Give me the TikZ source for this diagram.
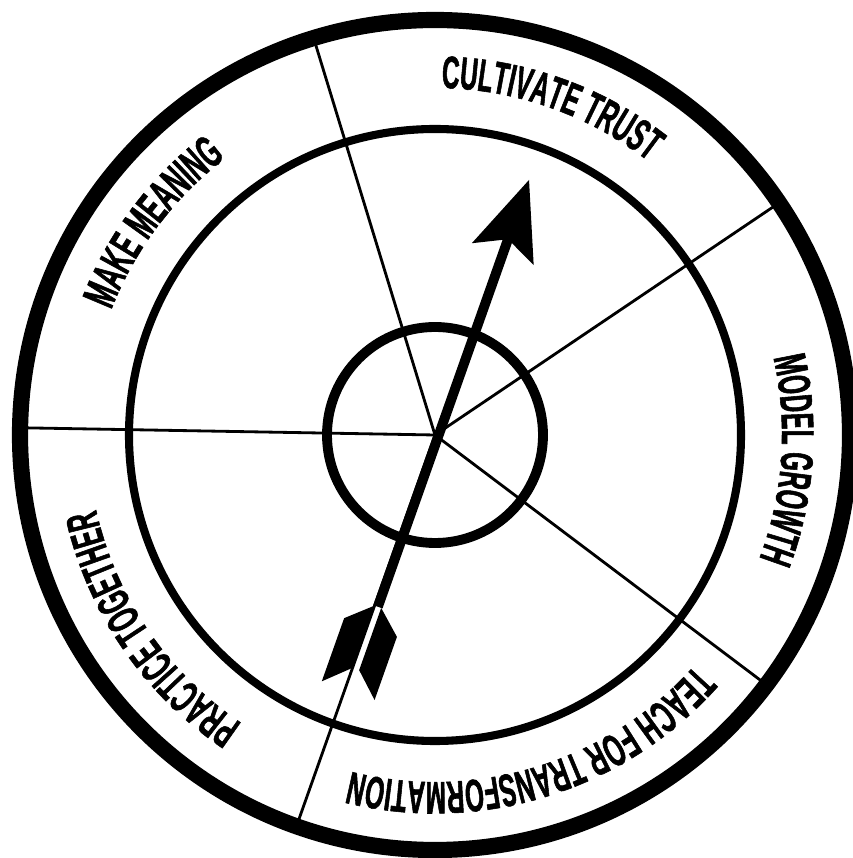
\documentclass[tikz,border=0pt]{standalone}
\usepackage{fontspec}
\usetikzlibrary{arrows.meta,decorations.text}
\newfontfamily\wheelfont[FakeStretch=0.53,FakeBold=1.2]{Liberation Sans}
\newcommand{\labelfont}{\wheelfont\bfseries\fontsize{13}{15}\selectfont}

\begin{document}
\begin{tikzpicture}[
  ring/.style={line width=#1},
  spoke/.style={line width=0.8pt},
  labeltext/.style={decorate,decoration={text along path,text align=center,text={|\labelfont|#1}}}]
  \useasboundingbox (-4.35,-4.23) rectangle (4.17,4.35);
  \coordinate (c) at (0,0);
  % spokes
  \foreach \a in {107,34,-37,179,250.5}{\draw[spoke] (c) -- (\a:4.15);}
  % rings
  \draw[ring=4.6pt] (c) circle (4.15);
  \draw[ring=2.3pt] (c) circle (3.06);
  \draw[ring=2.8pt] (c) circle (1.08);
  % labels, read clockwise
  \path[labeltext={CULTIVATE TRUST}] (115.5:3.47) arc[start angle=115.5,end angle=25.5,radius=3.47];
  \path[labeltext={MAKE MEANING}] (188:3.47) arc[start angle=188,end angle=98,radius=3.47];
  \path[labeltext={MODEL GROWTH}] (41:3.47) arc[start angle=41,end angle=-49,radius=3.47];
  \path[labeltext={TEACH FOR TRANSFORMATION}] (-27.75:3.47) arc[start angle=-27.75,end angle=-117.75,radius=3.47];
  \path[labeltext={PRACTICE TOGETHER}] (-100.7:3.47) arc[start angle=-100.7,end angle=-190.7,radius=3.47];
  % arrow
  \begin{scope}[rotate=70.5,yshift=-0.035cm]
    \coordinate (nock) at (-1.81,0);
    \coordinate (tip) at (2.72,0);
    \draw[line width=2.8pt,-{Stealth[length=0.78cm,width=0.64cm,inset=0.15cm]}] (nock) -- (tip);
    \fill (-1.81,0.035) -- (-2.03,0.28) -- (-2.70,0.28) -- (-2.47,0.035) -- cycle;
    \fill (-1.81,-0.035) -- (-2.03,-0.28) -- (-2.70,-0.28) -- (-2.47,-0.035) -- cycle;
  \end{scope}
\end{tikzpicture}
\end{document}
